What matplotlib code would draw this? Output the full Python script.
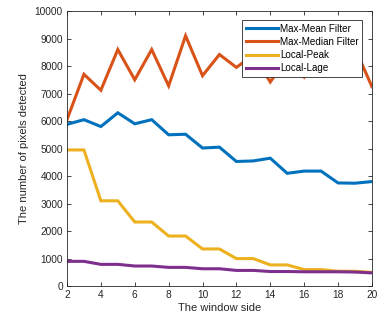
import matplotlib
matplotlib.use("Agg")
import matplotlib.pyplot as plt

plt.rcParams['font.family'] = ['Liberation Sans', 'DejaVu Sans']

window = list(range(2, 21))
max_mean = [5880, 6050, 5800, 6300, 5900, 6050, 5500, 5520, 5020, 5050,
            4530, 4550, 4650, 4100, 4180, 4180, 3750, 3740, 3800]
max_median = [6050, 7700, 7120, 8600, 7500, 8600, 7280, 9100, 7650, 8420,
              7950, 8400, 7420, 8300, 7600, 8700, 8400, 8650, 7250]
local_peak = [4950, 4950, 3100, 3100, 2330, 2330, 1820, 1820, 1350, 1350,
              1000, 1000, 770, 770, 600, 600, 540, 540, 500]
local_lage = [900, 900, 790, 790, 730, 730, 680, 680, 630, 630,
              570, 570, 530, 530, 520, 520, 520, 510, 480]
labels = ['Max-Mean Filter', 'Max-Median Filter', 'Local-Peak', 'Local-Lage']
colors = ['#0072BD', '#D95319', '#EDB120', '#7E2F8E']

fig = plt.figure(figsize=(3.85, 3.24), dpi=100)
ax = fig.add_axes([0.174, 0.117, 0.792, 0.849])
for series, lab, col in zip([max_mean, max_median, local_peak, local_lage], labels, colors):
    ax.plot(window, series, color=col, lw=2.2, label=lab, solid_joinstyle='miter')

ax.set_xlim(2, 20)
ax.set_ylim(0, 10000)
ax.set_xticks(range(2, 21, 2))
ax.set_yticks(range(0, 10001, 1000))
gray = '#262626'
ax.tick_params(direction='in', top=True, right=True, length=3, width=0.6,
               labelsize=7.3, colors=gray, pad=3)
for s in ax.spines.values():
    s.set_linewidth(0.6)
    s.set_color(gray)
ax.set_xlabel('The window side', fontsize=8, color=gray, labelpad=2)
ax.set_ylabel('The number of pixels detected', fontsize=8, color=gray, labelpad=4)

leg = ax.legend(loc='upper right', bbox_to_anchor=(0.967, 0.967), borderaxespad=0,
                fontsize=7.1, frameon=True, fancybox=False, edgecolor=gray,
                framealpha=1, handlelength=3.3, handletextpad=0.15,
                labelspacing=0.33, borderpad=0.35)
leg.get_frame().set_linewidth(0.6)

fig.savefig('out.png', dpi=100)
